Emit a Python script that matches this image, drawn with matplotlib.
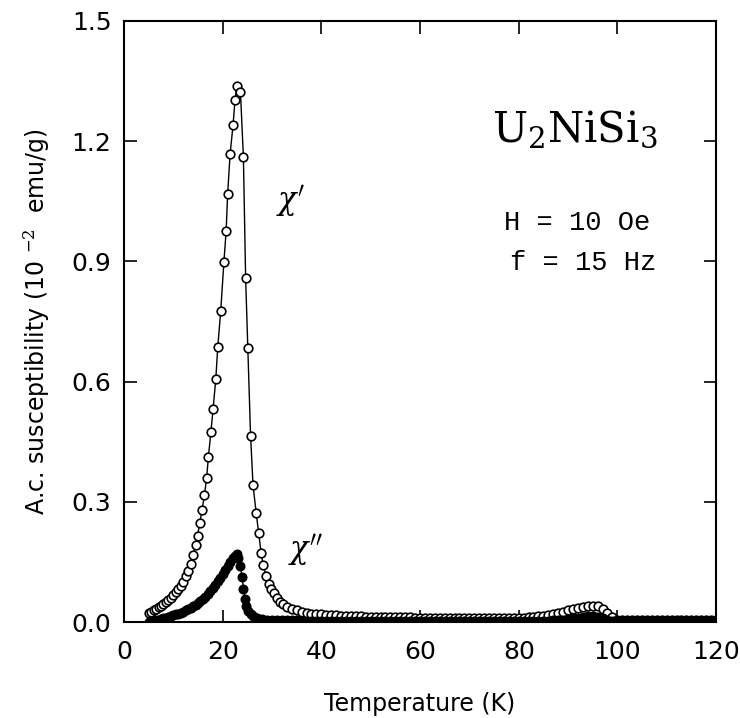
import matplotlib

matplotlib.use("Agg")
import matplotlib.pyplot as plt

# chi' (open circles), temperature in K, susceptibility in 10^-2 emu/g
chi1_temp = [
    5.0, 5.5, 6.0, 6.5, 7.0, 7.5, 8.0, 8.5, 9.0, 9.5,
    10.0, 10.5, 11.0, 11.5, 12.0, 12.5, 13.0, 13.5, 14.0, 14.5,
    14.9, 15.35, 15.8, 16.3, 16.75, 17.1, 17.6, 18.05, 18.6, 19.0,
    19.6, 20.25, 20.7, 21.0, 21.5, 22.1, 22.5, 22.85, 23.6, 24.2,
    24.65, 25.1, 25.65, 26.15, 26.8, 27.3, 27.8, 28.2, 28.8, 29.3,
    29.8, 30.3, 31.0, 31.6, 32.3, 33.0, 34.0, 35.0, 36.0, 37.0,
    38.0, 39.0, 40.0, 41.0, 42.0, 43.0, 44.0, 45.0, 46.0, 47.0,
    48.0, 49.0, 50.0, 51.0, 52.0, 53.0, 54.0, 55.0, 56.0, 57.0,
    58.0, 59.0, 60.0, 61.0, 62.0, 63.0, 64.0, 65.0, 66.0, 67.0,
    68.0, 69.0, 70.0, 71.0, 72.0, 73.0, 74.0, 75.0, 76.0, 77.0,
    78.0, 79.0, 80.0, 81.0, 82.0, 83.0, 84.0, 85.0, 86.0, 87.0,
    88.0, 89.0, 90.0, 91.0, 92.0, 93.0, 94.0, 95.0, 96.0, 97.0,
    98.0, 99.0, 100.0, 101.0, 102.0, 103.0, 104.0, 105.0, 106.0, 107.0,
    108.0, 109.0, 110.0, 111.0, 112.0, 113.0, 114.0, 115.0, 116.0, 117.0,
    118.0, 119.0, 120.0,
]
chi1_value = [
    0.022, 0.025, 0.029, 0.033, 0.037, 0.041, 0.046, 0.050, 0.055, 0.061,
    0.067, 0.074, 0.082, 0.091, 0.101, 0.114, 0.128, 0.146, 0.166, 0.192,
    0.215, 0.247, 0.279, 0.317, 0.360, 0.412, 0.473, 0.531, 0.606, 0.686,
    0.776, 0.899, 0.976, 1.067, 1.168, 1.240, 1.303, 1.338, 1.323, 1.160,
    0.858, 0.683, 0.465, 0.341, 0.271, 0.221, 0.171, 0.142, 0.115, 0.095,
    0.082, 0.072, 0.060, 0.051, 0.044, 0.038, 0.033, 0.030, 0.026, 0.023,
    0.021, 0.020, 0.019, 0.018, 0.017, 0.017, 0.016, 0.015, 0.015, 0.014,
    0.014, 0.013, 0.013, 0.012, 0.012, 0.012, 0.012, 0.012, 0.012, 0.012,
    0.012, 0.011, 0.011, 0.011, 0.011, 0.011, 0.011, 0.011, 0.011, 0.011,
    0.011, 0.011, 0.011, 0.010, 0.010, 0.010, 0.010, 0.010, 0.010, 0.010,
    0.010, 0.010, 0.010, 0.011, 0.012, 0.013, 0.014, 0.016, 0.018, 0.020,
    0.023, 0.026, 0.029, 0.032, 0.035, 0.038, 0.040, 0.041, 0.039, 0.033,
    0.022, 0.012, 0.006, 0.005, 0.005, 0.005, 0.005, 0.005, 0.005, 0.005,
    0.005, 0.005, 0.005, 0.005, 0.005, 0.005, 0.005, 0.005, 0.005, 0.005,
    0.005, 0.005, 0.005,
]

# chi'' (filled circles)
chi2_temp = [
    5.0, 5.5, 6.0, 6.5, 7.0, 7.5, 8.0, 8.5, 9.0, 9.5,
    10.0, 10.5, 11.0, 11.5, 12.0, 12.5, 13.0, 13.5, 14.0, 14.5,
    15.0, 15.5, 16.0, 16.5, 17.0, 17.5, 18.0, 18.5, 19.0, 19.5,
    20.0, 20.5, 21.0, 21.5, 22.0, 22.4, 22.8, 23.2, 23.6, 23.9,
    24.2, 24.5, 24.8, 25.2, 25.7, 26.2, 27.0, 28.0, 29.0, 30.0,
    31.0, 32.0, 33.0, 34.0, 35.0, 36.0, 37.0, 38.0, 39.0, 40.0,
    41.0, 42.0, 43.0, 44.0, 45.0, 46.0, 47.0, 48.0, 49.0, 50.0,
    51.0, 52.0, 53.0, 54.0, 55.0, 56.0, 57.0, 58.0, 59.0, 60.0,
    61.0, 62.0, 63.0, 64.0, 65.0, 66.0, 67.0, 68.0, 69.0, 70.0,
    71.0, 72.0, 73.0, 74.0, 75.0, 76.0, 77.0, 78.0, 79.0, 80.0,
    81.0, 82.0, 83.0, 84.0, 85.0, 86.0, 87.0, 88.0, 89.0, 90.0,
    91.0, 92.0, 93.0, 94.0, 95.0, 96.0, 97.0, 98.0, 99.0, 100.0,
    101.0, 102.0, 103.0, 104.0, 105.0, 106.0, 107.0, 108.0, 109.0, 110.0,
    111.0, 112.0, 113.0, 114.0, 115.0, 116.0, 117.0, 118.0, 119.0, 120.0,
]
chi2_value = [
    0.001, 0.002, 0.003, 0.004, 0.005, 0.007, 0.009, 0.011, 0.013, 0.015,
    0.017, 0.019, 0.021, 0.023, 0.026, 0.029, 0.032, 0.035, 0.039, 0.043,
    0.047, 0.052, 0.057, 0.063, 0.069, 0.077, 0.085, 0.093, 0.102, 0.111,
    0.120, 0.130, 0.140, 0.150, 0.159, 0.165, 0.169, 0.160, 0.140, 0.112,
    0.082, 0.058, 0.040, 0.028, 0.020, 0.015, 0.011, 0.008, 0.006, 0.005,
    0.004, 0.004, 0.004, 0.004, 0.004, 0.003, 0.003, 0.003, 0.003, 0.003,
    0.003, 0.003, 0.003, 0.003, 0.003, 0.003, 0.003, 0.003, 0.003, 0.003,
    0.003, 0.003, 0.003, 0.003, 0.003, 0.003, 0.003, 0.003, 0.003, 0.003,
    0.003, 0.003, 0.003, 0.003, 0.003, 0.003, 0.003, 0.003, 0.003, 0.003,
    0.003, 0.003, 0.003, 0.003, 0.003, 0.003, 0.003, 0.003, 0.003, 0.003,
    0.003, 0.003, 0.003, 0.003, 0.003, 0.003, 0.004, 0.004, 0.005, 0.007,
    0.009, 0.011, 0.013, 0.014, 0.015, 0.013, 0.010, 0.006, 0.003, 0.002,
    0.002, 0.002, 0.002, 0.002, 0.002, 0.002, 0.002, 0.002, 0.002, 0.002,
    0.002, 0.002, 0.002, 0.002, 0.002, 0.002, 0.002, 0.002, 0.002, 0.002,
]

x_ticks = [0, 20, 40, 60, 80, 100, 120]
y_ticks = [0.0, 0.3, 0.6, 0.9, 1.2, 1.5]

plt.rcParams["font.family"] = "DejaVu Sans"
plt.rcParams["mathtext.fontset"] = "dejavuserif"

fig = plt.figure(figsize=(7.4, 7.18), dpi=100)
ax = fig.add_axes([0.1676, 0.1337, 0.80, 0.8371])

ax.plot(chi1_temp, chi1_value, color="black", lw=1.0, marker="o", ms=6.2,
        mfc="white", mec="black", mew=1.2, zorder=2)
ax.plot(chi2_temp, chi2_value, color="black", lw=1.0, marker="o", ms=6.2,
        mfc="black", mec="black", zorder=3)

ax.set_xlim(0, 120)
ax.set_ylim(0, 1.5)
ax.set_xticks(x_ticks)
ax.set_yticks(y_ticks)
ax.set_xticklabels([str(t) for t in x_ticks])
ax.set_yticklabels([f"{t:.1f}" for t in y_ticks])
ax.tick_params(direction="in", length=9, width=1.2, top=True, right=True,
               labelsize=18)
ax.tick_params(axis="x", pad=13)
ax.tick_params(axis="y", pad=9)
for spine in ax.spines.values():
    spine.set_linewidth(1.5)

ax.set_xlabel("Temperature (K)", fontsize=17, labelpad=20)
ax.set_ylabel(r"A.c. susceptibility (10 $^{-2}$  emu/g)", fontsize=17, labelpad=14)

ax.text(0.762, 0.799, r"U$_2$NiSi$_3$", transform=ax.transAxes, ha="center",
        va="baseline", fontsize=30, family="DejaVu Serif")
ax.text(0.765, 0.664, "H = 10 Oe", transform=ax.transAxes, ha="center",
        va="center", fontsize=19.5, family="Liberation Mono")
ax.text(0.775, 0.597, "f = 15 Hz", transform=ax.transAxes, ha="center",
        va="center", fontsize=19.5, family="Liberation Mono")
ax.text(33.7, 1.05, r"$\chi'$", fontsize=22, ha="center", va="center")
ax.text(36.7, 0.18, r"$\chi''$", fontsize=22, ha="center", va="center")

fig.savefig("out.png", dpi=100)
